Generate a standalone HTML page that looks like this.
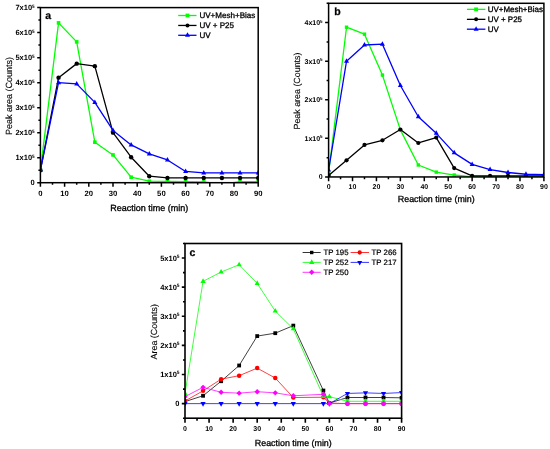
<!DOCTYPE html><html><head><meta charset="utf-8"><style>html,body{margin:0;padding:0;background:#fff;}svg{display:block;}#w{will-change:transform;}text{font-family:"Liberation Sans",sans-serif;fill:#000;stroke:#000;stroke-width:0.3px;text-rendering:geometricPrecision;}text[font-weight=bold]{stroke-width:0;}</style></head><body>
<div id="w"><svg width="550" height="449" viewBox="0 0 550 449">
<rect width="550" height="449" fill="#fff"/>
<defs>
<clipPath id="ca"><rect x="40.4" y="7.6" width="217.8" height="175.1"/></clipPath>
<clipPath id="cb"><rect x="328.6" y="3.3" width="215.3" height="173.65"/></clipPath>
<clipPath id="cc"><rect x="185" y="243.5" width="216.6" height="174.7"/></clipPath>
</defs>
<g clip-path="url(#ca)">
<polyline points="40.4,170.19 58.55,22.86 76.7,41.87 94.85,142.18 113,154.93 131.15,177.2 149.3,181.2 167.45,181.45 185.6,181.7 203.75,181.95 221.9,184.2 240.05,181.7 258.2,181.7" fill="none" stroke="#00ff00" stroke-width="1.3" stroke-linejoin="round"/>
<rect x="38.6" y="168.39" width="3.6" height="3.6" fill="#00ff00"/>
<rect x="56.75" y="21.06" width="3.6" height="3.6" fill="#00ff00"/>
<rect x="74.9" y="40.07" width="3.6" height="3.6" fill="#00ff00"/>
<rect x="93.05" y="140.38" width="3.6" height="3.6" fill="#00ff00"/>
<rect x="111.2" y="153.13" width="3.6" height="3.6" fill="#00ff00"/>
<rect x="129.35" y="175.4" width="3.6" height="3.6" fill="#00ff00"/>
<rect x="147.5" y="179.4" width="3.6" height="3.6" fill="#00ff00"/>
<rect x="165.65" y="179.65" width="3.6" height="3.6" fill="#00ff00"/>
<rect x="183.8" y="179.9" width="3.6" height="3.6" fill="#00ff00"/>
<rect x="201.95" y="180.15" width="3.6" height="3.6" fill="#00ff00"/>
<rect x="220.1" y="182.4" width="3.6" height="3.6" fill="#00ff00"/>
<rect x="238.25" y="179.9" width="3.6" height="3.6" fill="#00ff00"/>
<rect x="256.4" y="179.9" width="3.6" height="3.6" fill="#00ff00"/>
</g>
<g clip-path="url(#ca)">
<polyline points="40.4,170.19 58.55,77.64 76.7,63.63 94.85,66.13 113,132.67 131.15,157.19 149.3,176.2 167.45,177.95 185.6,177.95 203.75,177.95 221.9,177.95 240.05,177.95 258.2,177.95" fill="none" stroke="#000000" stroke-width="1.3" stroke-linejoin="round"/>
<circle cx="40.4" cy="170.19" r="2.2" fill="#000000"/>
<circle cx="58.55" cy="77.64" r="2.2" fill="#000000"/>
<circle cx="76.7" cy="63.63" r="2.2" fill="#000000"/>
<circle cx="94.85" cy="66.13" r="2.2" fill="#000000"/>
<circle cx="113" cy="132.67" r="2.2" fill="#000000"/>
<circle cx="131.15" cy="157.19" r="2.2" fill="#000000"/>
<circle cx="149.3" cy="176.2" r="2.2" fill="#000000"/>
<circle cx="167.45" cy="177.95" r="2.2" fill="#000000"/>
<circle cx="185.6" cy="177.95" r="2.2" fill="#000000"/>
<circle cx="203.75" cy="177.95" r="2.2" fill="#000000"/>
<circle cx="221.9" cy="177.95" r="2.2" fill="#000000"/>
<circle cx="240.05" cy="177.95" r="2.2" fill="#000000"/>
<circle cx="258.2" cy="177.95" r="2.2" fill="#000000"/>
</g>
<g clip-path="url(#ca)">
<polyline points="40.4,170.19 58.55,82.64 76.7,83.89 94.85,102.4 113,130.42 131.15,144.93 149.3,153.93 167.45,159.94 185.6,171.44 203.75,172.94 221.9,172.94 240.05,172.94 258.2,172.94" fill="none" stroke="#0000ff" stroke-width="1.3" stroke-linejoin="round"/>
<path d="M40.4 167.19L42.9 171.69L37.9 171.69Z" fill="#0000ff"/>
<path d="M58.55 79.64L61.05 84.14L56.05 84.14Z" fill="#0000ff"/>
<path d="M76.7 80.89L79.2 85.39L74.2 85.39Z" fill="#0000ff"/>
<path d="M94.85 99.4L97.35 103.9L92.35 103.9Z" fill="#0000ff"/>
<path d="M113 127.42L115.5 131.92L110.5 131.92Z" fill="#0000ff"/>
<path d="M131.15 141.93L133.65 146.43L128.65 146.43Z" fill="#0000ff"/>
<path d="M149.3 150.93L151.8 155.43L146.8 155.43Z" fill="#0000ff"/>
<path d="M167.45 156.94L169.95 161.44L164.95 161.44Z" fill="#0000ff"/>
<path d="M185.6 168.44L188.1 172.94L183.1 172.94Z" fill="#0000ff"/>
<path d="M203.75 169.94L206.25 174.44L201.25 174.44Z" fill="#0000ff"/>
<path d="M221.9 169.94L224.4 174.44L219.4 174.44Z" fill="#0000ff"/>
<path d="M240.05 169.94L242.55 174.44L237.55 174.44Z" fill="#0000ff"/>
<path d="M258.2 169.94L260.7 174.44L255.7 174.44Z" fill="#0000ff"/>
</g>
<rect x="40.4" y="7.6" width="217.8" height="175.1" fill="none" stroke="#000" stroke-width="1.5"/>
<path d="M40.4 182.7V186.7M64.6 182.7V186.7M88.8 182.7V186.7M113 182.7V186.7M137.2 182.7V186.7M161.4 182.7V186.7M185.6 182.7V186.7M209.8 182.7V186.7M234 182.7V186.7M258.2 182.7V186.7M52.5 182.7V184.7M76.7 182.7V184.7M100.9 182.7V184.7M125.1 182.7V184.7M149.3 182.7V184.7M173.5 182.7V184.7M197.7 182.7V184.7M221.9 182.7V184.7M246.1 182.7V184.7M40.4 182.7H37.2M40.4 157.69H37.2M40.4 132.67H37.2M40.4 107.66H37.2M40.4 82.64H37.2M40.4 57.63H37.2M40.4 32.61H37.2M40.4 7.6H37.2M40.4 170.19H38.4M40.4 145.18H38.4M40.4 120.16H38.4M40.4 95.15H38.4M40.4 70.14H38.4M40.4 45.12H38.4M40.4 20.11H38.4" stroke="#000" stroke-width="1.5" fill="none"/>
<text x="40.4" y="195.97" font-size="7.7" text-anchor="middle" font-weight="bold">0</text>
<text x="64.6" y="195.97" font-size="7.7" text-anchor="middle" font-weight="bold">10</text>
<text x="88.8" y="195.97" font-size="7.7" text-anchor="middle" font-weight="bold">20</text>
<text x="113" y="195.97" font-size="7.7" text-anchor="middle" font-weight="bold">30</text>
<text x="137.2" y="195.97" font-size="7.7" text-anchor="middle" font-weight="bold">40</text>
<text x="161.4" y="195.97" font-size="7.7" text-anchor="middle" font-weight="bold">50</text>
<text x="185.6" y="195.97" font-size="7.7" text-anchor="middle" font-weight="bold">60</text>
<text x="209.8" y="195.97" font-size="7.7" text-anchor="middle" font-weight="bold">70</text>
<text x="234" y="195.97" font-size="7.7" text-anchor="middle" font-weight="bold">80</text>
<text x="258.2" y="195.97" font-size="7.7" text-anchor="middle" font-weight="bold">90</text>
<text x="34.7" y="185.4" font-size="7.5" text-anchor="end" font-weight="bold">0</text>
<text x="34.7" y="160.39" font-size="7.5" text-anchor="end" font-weight="bold">1x10<tspan font-size="4.7" dy="-2.8">5</tspan></text>
<text x="34.7" y="135.37" font-size="7.5" text-anchor="end" font-weight="bold">2x10<tspan font-size="4.7" dy="-2.8">5</tspan></text>
<text x="34.7" y="110.36" font-size="7.5" text-anchor="end" font-weight="bold">3x10<tspan font-size="4.7" dy="-2.8">5</tspan></text>
<text x="34.7" y="85.34" font-size="7.5" text-anchor="end" font-weight="bold">4x10<tspan font-size="4.7" dy="-2.8">5</tspan></text>
<text x="34.7" y="60.33" font-size="7.5" text-anchor="end" font-weight="bold">5x10<tspan font-size="4.7" dy="-2.8">5</tspan></text>
<text x="34.7" y="35.31" font-size="7.5" text-anchor="end" font-weight="bold">6x10<tspan font-size="4.7" dy="-2.8">5</tspan></text>
<text x="34.7" y="10.3" font-size="7.5" text-anchor="end" font-weight="bold">7x10<tspan font-size="4.7" dy="-2.8">5</tspan></text>
<text x="149.3" y="210.8" font-size="9" text-anchor="middle">Reaction time (min)</text>
<text transform="translate(12.2 96.05) rotate(-90)" font-size="9" text-anchor="middle" style="stroke-width:0.12px">Peak area (Counts)</text>
<text x="45.3" y="18.6" font-size="10.5" font-weight="bold" style="stroke-width:0.25px">a</text>
<line x1="178.2" x2="196.5" y1="15.5" y2="15.5" stroke="#00ff00" stroke-width="1.3"/>
<rect x="185.6" y="13.6" width="3.8" height="3.8" fill="#00ff00"/>
<text x="199.4" y="18.2" font-size="8.05">UV+Mesh+Bias</text>
<line x1="178.2" x2="196.5" y1="25.45" y2="25.45" stroke="#000000" stroke-width="1.3"/>
<circle cx="187.5" cy="25.45" r="2" fill="#000000"/>
<text x="199.4" y="28.15" font-size="8.05">UV + P25</text>
<line x1="178.2" x2="196.5" y1="35.3" y2="35.3" stroke="#0000ff" stroke-width="1.3"/>
<path d="M187.5 32.3L190 36.8L185 36.8Z" fill="#0000ff"/>
<text x="199.4" y="38" font-size="8.05">UV</text>
<g clip-path="url(#cb)">
<polyline points="328.6,173.09 346.54,27.23 364.48,34.17 382.43,75.08 400.37,129.87 418.31,164.99 436.25,172.13 454.19,175.02 472.13,176.95 490.07,176.95 508.02,176.95 525.96,176.95 543.9,176.95" fill="none" stroke="#00ff00" stroke-width="1.3" stroke-linejoin="round"/>
<rect x="326.9" y="171.39" width="3.4" height="3.4" fill="#00ff00"/>
<rect x="344.84" y="25.53" width="3.4" height="3.4" fill="#00ff00"/>
<rect x="362.78" y="32.47" width="3.4" height="3.4" fill="#00ff00"/>
<rect x="380.73" y="73.38" width="3.4" height="3.4" fill="#00ff00"/>
<rect x="398.67" y="128.17" width="3.4" height="3.4" fill="#00ff00"/>
<rect x="416.61" y="163.29" width="3.4" height="3.4" fill="#00ff00"/>
<rect x="434.55" y="170.43" width="3.4" height="3.4" fill="#00ff00"/>
<rect x="452.49" y="173.32" width="3.4" height="3.4" fill="#00ff00"/>
<rect x="470.43" y="175.25" width="3.4" height="3.4" fill="#00ff00"/>
<rect x="488.38" y="175.25" width="3.4" height="3.4" fill="#00ff00"/>
<rect x="506.32" y="175.25" width="3.4" height="3.4" fill="#00ff00"/>
<rect x="524.26" y="175.25" width="3.4" height="3.4" fill="#00ff00"/>
<rect x="542.2" y="175.25" width="3.4" height="3.4" fill="#00ff00"/>
</g>
<g clip-path="url(#cb)">
<polyline points="328.6,175.41 346.54,160.36 364.48,144.92 382.43,140.29 400.37,129.49 418.31,142.99 436.25,137.59 454.19,168.07 472.13,175.79 490.07,175.79 508.02,175.79 525.96,175.79 543.9,175.79" fill="none" stroke="#000000" stroke-width="1.3" stroke-linejoin="round"/>
<circle cx="328.6" cy="175.41" r="2.1" fill="#000000"/>
<circle cx="346.54" cy="160.36" r="2.1" fill="#000000"/>
<circle cx="364.48" cy="144.92" r="2.1" fill="#000000"/>
<circle cx="382.43" cy="140.29" r="2.1" fill="#000000"/>
<circle cx="400.37" cy="129.49" r="2.1" fill="#000000"/>
<circle cx="418.31" cy="142.99" r="2.1" fill="#000000"/>
<circle cx="436.25" cy="137.59" r="2.1" fill="#000000"/>
<circle cx="454.19" cy="168.07" r="2.1" fill="#000000"/>
<circle cx="472.13" cy="175.79" r="2.1" fill="#000000"/>
<circle cx="490.07" cy="175.79" r="2.1" fill="#000000"/>
<circle cx="508.02" cy="175.79" r="2.1" fill="#000000"/>
<circle cx="525.96" cy="175.79" r="2.1" fill="#000000"/>
<circle cx="543.9" cy="175.79" r="2.1" fill="#000000"/>
</g>
<g clip-path="url(#cb)">
<polyline points="328.6,170 346.54,61.18 364.48,44.98 382.43,44.2 400.37,85.49 418.31,116.75 436.25,133.34 454.19,152.83 472.13,164.41 490.07,169.62 508.02,172.51 525.96,174.25 543.9,174.63" fill="none" stroke="#0000ff" stroke-width="1.3" stroke-linejoin="round"/>
<path d="M328.6 167L331.1 171.5L326.1 171.5Z" fill="#0000ff"/>
<path d="M346.54 58.18L349.04 62.68L344.04 62.68Z" fill="#0000ff"/>
<path d="M364.48 41.98L366.98 46.48L361.98 46.48Z" fill="#0000ff"/>
<path d="M382.43 41.2L384.93 45.7L379.93 45.7Z" fill="#0000ff"/>
<path d="M400.37 82.49L402.87 86.99L397.87 86.99Z" fill="#0000ff"/>
<path d="M418.31 113.75L420.81 118.25L415.81 118.25Z" fill="#0000ff"/>
<path d="M436.25 130.34L438.75 134.84L433.75 134.84Z" fill="#0000ff"/>
<path d="M454.19 149.83L456.69 154.33L451.69 154.33Z" fill="#0000ff"/>
<path d="M472.13 161.41L474.63 165.91L469.63 165.91Z" fill="#0000ff"/>
<path d="M490.07 166.62L492.57 171.12L487.57 171.12Z" fill="#0000ff"/>
<path d="M508.02 169.51L510.52 174.01L505.52 174.01Z" fill="#0000ff"/>
<path d="M525.96 171.25L528.46 175.75L523.46 175.75Z" fill="#0000ff"/>
<path d="M543.9 171.63L546.4 176.13L541.4 176.13Z" fill="#0000ff"/>
</g>
<rect x="328.6" y="3.3" width="215.3" height="173.65" fill="none" stroke="#000" stroke-width="1.5"/>
<path d="M328.6 176.95V181.25M352.52 176.95V181.25M376.44 176.95V181.25M400.37 176.95V181.25M424.29 176.95V181.25M448.21 176.95V181.25M472.13 176.95V181.25M496.06 176.95V181.25M519.98 176.95V181.25M543.9 176.95V181.25M340.56 176.95V179.15M364.48 176.95V179.15M388.41 176.95V179.15M412.33 176.95V179.15M436.25 176.95V179.15M460.17 176.95V179.15M484.09 176.95V179.15M508.02 176.95V179.15M531.94 176.95V179.15M328.6 176.95H325.1M328.6 138.36H325.1M328.6 99.77H325.1M328.6 61.18H325.1M328.6 22.59H325.1M328.6 157.66H326.6M328.6 119.07H326.6M328.6 80.48H326.6M328.6 41.89H326.6M328.6 3.3H326.6" stroke="#000" stroke-width="1.5" fill="none"/>
<text x="328.6" y="189.32" font-size="7.0" text-anchor="middle" font-weight="bold">0</text>
<text x="352.52" y="189.32" font-size="7.0" text-anchor="middle" font-weight="bold">10</text>
<text x="376.44" y="189.32" font-size="7.0" text-anchor="middle" font-weight="bold">20</text>
<text x="400.37" y="189.32" font-size="7.0" text-anchor="middle" font-weight="bold">30</text>
<text x="424.29" y="189.32" font-size="7.0" text-anchor="middle" font-weight="bold">40</text>
<text x="448.21" y="189.32" font-size="7.0" text-anchor="middle" font-weight="bold">50</text>
<text x="472.13" y="189.32" font-size="7.0" text-anchor="middle" font-weight="bold">60</text>
<text x="496.06" y="189.32" font-size="7.0" text-anchor="middle" font-weight="bold">70</text>
<text x="519.98" y="189.32" font-size="7.0" text-anchor="middle" font-weight="bold">80</text>
<text x="543.9" y="189.32" font-size="7.0" text-anchor="middle" font-weight="bold">90</text>
<text x="322.6" y="179.47" font-size="7.0" text-anchor="end" font-weight="bold">0</text>
<text x="322.6" y="140.88" font-size="7.0" text-anchor="end" font-weight="bold">1x10<tspan font-size="4.5" dy="-2.5">5</tspan></text>
<text x="322.6" y="102.29" font-size="7.0" text-anchor="end" font-weight="bold">2x10<tspan font-size="4.5" dy="-2.5">5</tspan></text>
<text x="322.6" y="63.7" font-size="7.0" text-anchor="end" font-weight="bold">3x10<tspan font-size="4.5" dy="-2.5">5</tspan></text>
<text x="322.6" y="25.11" font-size="7.0" text-anchor="end" font-weight="bold">4x10<tspan font-size="4.5" dy="-2.5">5</tspan></text>
<text x="436.25" y="201.5" font-size="8.9" text-anchor="middle">Reaction time (min)</text>
<text transform="translate(299.9 91.03) rotate(-90)" font-size="8.9" text-anchor="middle" style="stroke-width:0.12px">Peak area (Counts)</text>
<text x="334.3" y="14.9" font-size="10.5" font-weight="bold" style="stroke-width:0.25px">b</text>
<line x1="466.9" x2="485.4" y1="9.35" y2="9.35" stroke="#00ff00" stroke-width="1.3"/>
<rect x="474.2" y="7.45" width="3.8" height="3.8" fill="#00ff00"/>
<text x="487.8" y="12.05" font-size="7.95">UV+Mesh+Bias</text>
<line x1="466.9" x2="485.4" y1="19.35" y2="19.35" stroke="#000000" stroke-width="1.3"/>
<circle cx="476.1" cy="19.35" r="2" fill="#000000"/>
<text x="487.8" y="22.05" font-size="7.95">UV + P25</text>
<line x1="466.9" x2="485.4" y1="29.2" y2="29.2" stroke="#0000ff" stroke-width="1.3"/>
<path d="M476.1 26.2L478.6 30.7L473.6 30.7Z" fill="#0000ff"/>
<text x="487.8" y="31.9" font-size="7.95">UV</text>
<g clip-path="url(#cc)">
<polyline points="185,401.6 203.05,395.78 221.1,381.22 239.15,365.5 257.2,336.09 275.25,333.18 293.3,325.61 323.38,390.54 329.4,403.06 347.45,397.53 365.5,397.53 383.55,397.53 401.6,397.82" fill="none" stroke="#000000" stroke-width="0.75" stroke-linejoin="round"/>
<rect x="183.1" y="399.7" width="3.8" height="3.8" fill="#000000"/>
<rect x="201.15" y="393.88" width="3.8" height="3.8" fill="#000000"/>
<rect x="219.2" y="379.32" width="3.8" height="3.8" fill="#000000"/>
<rect x="237.25" y="363.6" width="3.8" height="3.8" fill="#000000"/>
<rect x="255.3" y="334.19" width="3.8" height="3.8" fill="#000000"/>
<rect x="273.35" y="331.28" width="3.8" height="3.8" fill="#000000"/>
<rect x="291.4" y="323.71" width="3.8" height="3.8" fill="#000000"/>
<rect x="321.48" y="388.64" width="3.8" height="3.8" fill="#000000"/>
<rect x="327.5" y="401.16" width="3.8" height="3.8" fill="#000000"/>
<rect x="345.55" y="395.63" width="3.8" height="3.8" fill="#000000"/>
<rect x="363.6" y="395.63" width="3.8" height="3.8" fill="#000000"/>
<rect x="381.65" y="395.63" width="3.8" height="3.8" fill="#000000"/>
<rect x="399.7" y="395.92" width="3.8" height="3.8" fill="#000000"/>
</g>
<g clip-path="url(#cc)">
<polyline points="185,401.02 203.05,390.83 221.1,379.18 239.15,375.69 257.2,368.12 275.25,378.02 293.3,397.53 323.38,397.24 329.4,403.06 347.45,403.64 365.5,403.64 383.55,403.64 401.6,403.64" fill="none" stroke="#ff0000" stroke-width="0.75" stroke-linejoin="round"/>
<circle cx="185" cy="401.02" r="2.25" fill="#ff0000"/>
<circle cx="203.05" cy="390.83" r="2.25" fill="#ff0000"/>
<circle cx="221.1" cy="379.18" r="2.25" fill="#ff0000"/>
<circle cx="239.15" cy="375.69" r="2.25" fill="#ff0000"/>
<circle cx="257.2" cy="368.12" r="2.25" fill="#ff0000"/>
<circle cx="275.25" cy="378.02" r="2.25" fill="#ff0000"/>
<circle cx="293.3" cy="397.53" r="2.25" fill="#ff0000"/>
<circle cx="323.38" cy="397.24" r="2.25" fill="#ff0000"/>
<circle cx="329.4" cy="403.06" r="2.25" fill="#ff0000"/>
<circle cx="347.45" cy="403.64" r="2.25" fill="#ff0000"/>
<circle cx="365.5" cy="403.64" r="2.25" fill="#ff0000"/>
<circle cx="383.55" cy="403.64" r="2.25" fill="#ff0000"/>
<circle cx="401.6" cy="403.64" r="2.25" fill="#ff0000"/>
</g>
<g clip-path="url(#cc)">
<polyline points="185,393.45 203.05,281.35 221.1,272.03 239.15,264.76 257.2,283.39 275.25,311.05 293.3,328.81 323.38,396.36 329.4,396.65 347.45,401.31 365.5,401.31 383.55,401.31 401.6,401.31" fill="none" stroke="#00ff00" stroke-width="0.75" stroke-linejoin="round"/>
<path d="M185 390.33L187.6 395.01L182.4 395.01Z" fill="#00ff00"/>
<path d="M203.05 278.23L205.65 282.91L200.45 282.91Z" fill="#00ff00"/>
<path d="M221.1 268.91L223.7 273.59L218.5 273.59Z" fill="#00ff00"/>
<path d="M239.15 261.64L241.75 266.32L236.55 266.32Z" fill="#00ff00"/>
<path d="M257.2 280.27L259.8 284.95L254.6 284.95Z" fill="#00ff00"/>
<path d="M275.25 307.93L277.85 312.61L272.65 312.61Z" fill="#00ff00"/>
<path d="M293.3 325.69L295.9 330.37L290.7 330.37Z" fill="#00ff00"/>
<path d="M323.38 393.24L325.98 397.92L320.78 397.92Z" fill="#00ff00"/>
<path d="M329.4 393.53L332 398.21L326.8 398.21Z" fill="#00ff00"/>
<path d="M347.45 398.19L350.05 402.87L344.85 402.87Z" fill="#00ff00"/>
<path d="M365.5 398.19L368.1 402.87L362.9 402.87Z" fill="#00ff00"/>
<path d="M383.55 398.19L386.15 402.87L380.95 402.87Z" fill="#00ff00"/>
<path d="M401.6 398.19L404.2 402.87L399 402.87Z" fill="#00ff00"/>
</g>
<g clip-path="url(#cc)">
<polyline points="185,403.64 203.05,403.64 221.1,403.64 239.15,403.64 257.2,403.64 275.25,403.64 293.3,403.64 323.38,403.64 329.4,403.64 347.45,393.45 365.5,392.87 383.55,393.45 401.6,392.58" fill="none" stroke="#0000ff" stroke-width="0.75" stroke-linejoin="round"/>
<path d="M185 406.76L187.6 402.08L182.4 402.08Z" fill="#0000ff"/>
<path d="M203.05 406.76L205.65 402.08L200.45 402.08Z" fill="#0000ff"/>
<path d="M221.1 406.76L223.7 402.08L218.5 402.08Z" fill="#0000ff"/>
<path d="M239.15 406.76L241.75 402.08L236.55 402.08Z" fill="#0000ff"/>
<path d="M257.2 406.76L259.8 402.08L254.6 402.08Z" fill="#0000ff"/>
<path d="M275.25 406.76L277.85 402.08L272.65 402.08Z" fill="#0000ff"/>
<path d="M293.3 406.76L295.9 402.08L290.7 402.08Z" fill="#0000ff"/>
<path d="M323.38 406.76L325.98 402.08L320.78 402.08Z" fill="#0000ff"/>
<path d="M329.4 406.76L332 402.08L326.8 402.08Z" fill="#0000ff"/>
<path d="M347.45 396.57L350.05 391.89L344.85 391.89Z" fill="#0000ff"/>
<path d="M365.5 395.99L368.1 391.31L362.9 391.31Z" fill="#0000ff"/>
<path d="M383.55 396.57L386.15 391.89L380.95 391.89Z" fill="#0000ff"/>
<path d="M401.6 395.7L404.2 391.02L399 391.02Z" fill="#0000ff"/>
</g>
<g clip-path="url(#cc)">
<polyline points="185,396.65 203.05,387.34 221.1,392.29 239.15,393.16 257.2,391.7 275.25,392.87 293.3,395.78 323.38,394.32 329.4,403.64 347.45,403.64 365.5,403.64 383.55,403.64 401.6,403.64" fill="none" stroke="#ff00ff" stroke-width="0.75" stroke-linejoin="round"/>
<path d="M185 393.95L187.7 396.65L185 399.35L182.3 396.65Z" fill="#ff00ff"/>
<path d="M203.05 384.64L205.75 387.34L203.05 390.04L200.35 387.34Z" fill="#ff00ff"/>
<path d="M221.1 389.59L223.8 392.29L221.1 394.99L218.4 392.29Z" fill="#ff00ff"/>
<path d="M239.15 390.46L241.85 393.16L239.15 395.86L236.45 393.16Z" fill="#ff00ff"/>
<path d="M257.2 389L259.9 391.7L257.2 394.4L254.5 391.7Z" fill="#ff00ff"/>
<path d="M275.25 390.17L277.95 392.87L275.25 395.57L272.55 392.87Z" fill="#ff00ff"/>
<path d="M293.3 393.08L296 395.78L293.3 398.48L290.6 395.78Z" fill="#ff00ff"/>
<path d="M323.38 391.62L326.08 394.32L323.38 397.02L320.68 394.32Z" fill="#ff00ff"/>
<path d="M329.4 400.94L332.1 403.64L329.4 406.34L326.7 403.64Z" fill="#ff00ff"/>
<path d="M347.45 400.94L350.15 403.64L347.45 406.34L344.75 403.64Z" fill="#ff00ff"/>
<path d="M365.5 400.94L368.2 403.64L365.5 406.34L362.8 403.64Z" fill="#ff00ff"/>
<path d="M383.55 400.94L386.25 403.64L383.55 406.34L380.85 403.64Z" fill="#ff00ff"/>
<path d="M401.6 400.94L404.3 403.64L401.6 406.34L398.9 403.64Z" fill="#ff00ff"/>
</g>
<rect x="185" y="243.5" width="216.6" height="174.7" fill="none" stroke="#000" stroke-width="1.6"/>
<path d="M185 418.2V422.7M209.07 418.2V422.7M233.13 418.2V422.7M257.2 418.2V422.7M281.27 418.2V422.7M305.33 418.2V422.7M329.4 418.2V422.7M353.47 418.2V422.7M377.53 418.2V422.7M401.6 418.2V422.7M197.03 418.2V420.7M221.1 418.2V420.7M245.17 418.2V420.7M269.23 418.2V420.7M293.3 418.2V420.7M317.37 418.2V420.7M341.43 418.2V420.7M365.5 418.2V420.7M389.57 418.2V420.7M185 403.64H181.8M185 374.52H181.8M185 345.41H181.8M185 316.29H181.8M185 287.17H181.8M185 258.06H181.8M185 418.2H183M185 389.08H183M185 359.97H183M185 330.85H183M185 301.73H183M185 272.62H183M185 243.5H183" stroke="#000" stroke-width="1.6" fill="none"/>
<text x="185" y="431.22" font-size="7.0" text-anchor="middle" font-weight="bold">0</text>
<text x="209.07" y="431.22" font-size="7.0" text-anchor="middle" font-weight="bold">10</text>
<text x="233.13" y="431.22" font-size="7.0" text-anchor="middle" font-weight="bold">20</text>
<text x="257.2" y="431.22" font-size="7.0" text-anchor="middle" font-weight="bold">30</text>
<text x="281.27" y="431.22" font-size="7.0" text-anchor="middle" font-weight="bold">40</text>
<text x="305.33" y="431.22" font-size="7.0" text-anchor="middle" font-weight="bold">50</text>
<text x="329.4" y="431.22" font-size="7.0" text-anchor="middle" font-weight="bold">60</text>
<text x="353.47" y="431.22" font-size="7.0" text-anchor="middle" font-weight="bold">70</text>
<text x="377.53" y="431.22" font-size="7.0" text-anchor="middle" font-weight="bold">80</text>
<text x="401.6" y="431.22" font-size="7.0" text-anchor="middle" font-weight="bold">90</text>
<text x="179.5" y="406.34" font-size="7.5" text-anchor="end" font-weight="bold">0</text>
<text x="179.5" y="377.22" font-size="7.5" text-anchor="end" font-weight="bold">1x10<tspan font-size="4.8" dy="-2.8">5</tspan></text>
<text x="179.5" y="348.11" font-size="7.5" text-anchor="end" font-weight="bold">2x10<tspan font-size="4.8" dy="-2.8">5</tspan></text>
<text x="179.5" y="318.99" font-size="7.5" text-anchor="end" font-weight="bold">3x10<tspan font-size="4.8" dy="-2.8">5</tspan></text>
<text x="179.5" y="289.87" font-size="7.5" text-anchor="end" font-weight="bold">4x10<tspan font-size="4.8" dy="-2.8">5</tspan></text>
<text x="179.5" y="260.76" font-size="7.5" text-anchor="end" font-weight="bold">5x10<tspan font-size="4.8" dy="-2.8">5</tspan></text>
<text x="293.3" y="446.1" font-size="8.9" text-anchor="middle">Reaction time (min)</text>
<text transform="translate(157.2 331.75) rotate(-90)" font-size="8.9" text-anchor="middle" style="stroke-width:0.12px">Area (Counts)</text>
<text x="189.4" y="256.0" font-size="10.5" font-weight="bold" style="stroke-width:0.25px">c</text>
<line x1="302.6" x2="320.7" y1="252.5" y2="252.5" stroke="#000000" stroke-width="0.8"/>
<rect x="310" y="250.8" width="3.4" height="3.4" fill="#000000"/>
<text x="323.5" y="255.25" font-size="7.8" style="stroke-width:0.2px">TP 195</text>
<line x1="350.6" x2="369.0" y1="252.5" y2="252.5" stroke="#ff0000" stroke-width="0.8"/>
<circle cx="359.7" cy="252.5" r="2.15" fill="#ff0000"/>
<text x="371.6" y="255.25" font-size="7.8" style="stroke-width:0.2px">TP 266</text>
<line x1="302.6" x2="320.7" y1="262.4" y2="262.4" stroke="#00ff00" stroke-width="0.8"/>
<path d="M311.7 259.22L314.35 263.99L309.05 263.99Z" fill="#00ff00"/>
<text x="323.5" y="265.15" font-size="7.8" style="stroke-width:0.2px">TP 252</text>
<line x1="350.6" x2="369.0" y1="262.4" y2="262.4" stroke="#0000ff" stroke-width="0.8"/>
<path d="M359.7 265.4L362.2 260.9L357.2 260.9Z" fill="#0000ff"/>
<text x="371.6" y="265.15" font-size="7.8" style="stroke-width:0.2px">TP 217</text>
<line x1="302.6" x2="320.7" y1="272.3" y2="272.3" stroke="#ff00ff" stroke-width="0.8"/>
<path d="M311.7 269.6L314.4 272.3L311.7 275L309 272.3Z" fill="#ff00ff"/>
<text x="323.5" y="275.05" font-size="7.8" style="stroke-width:0.2px">TP 250</text>
</svg></div></body></html>
